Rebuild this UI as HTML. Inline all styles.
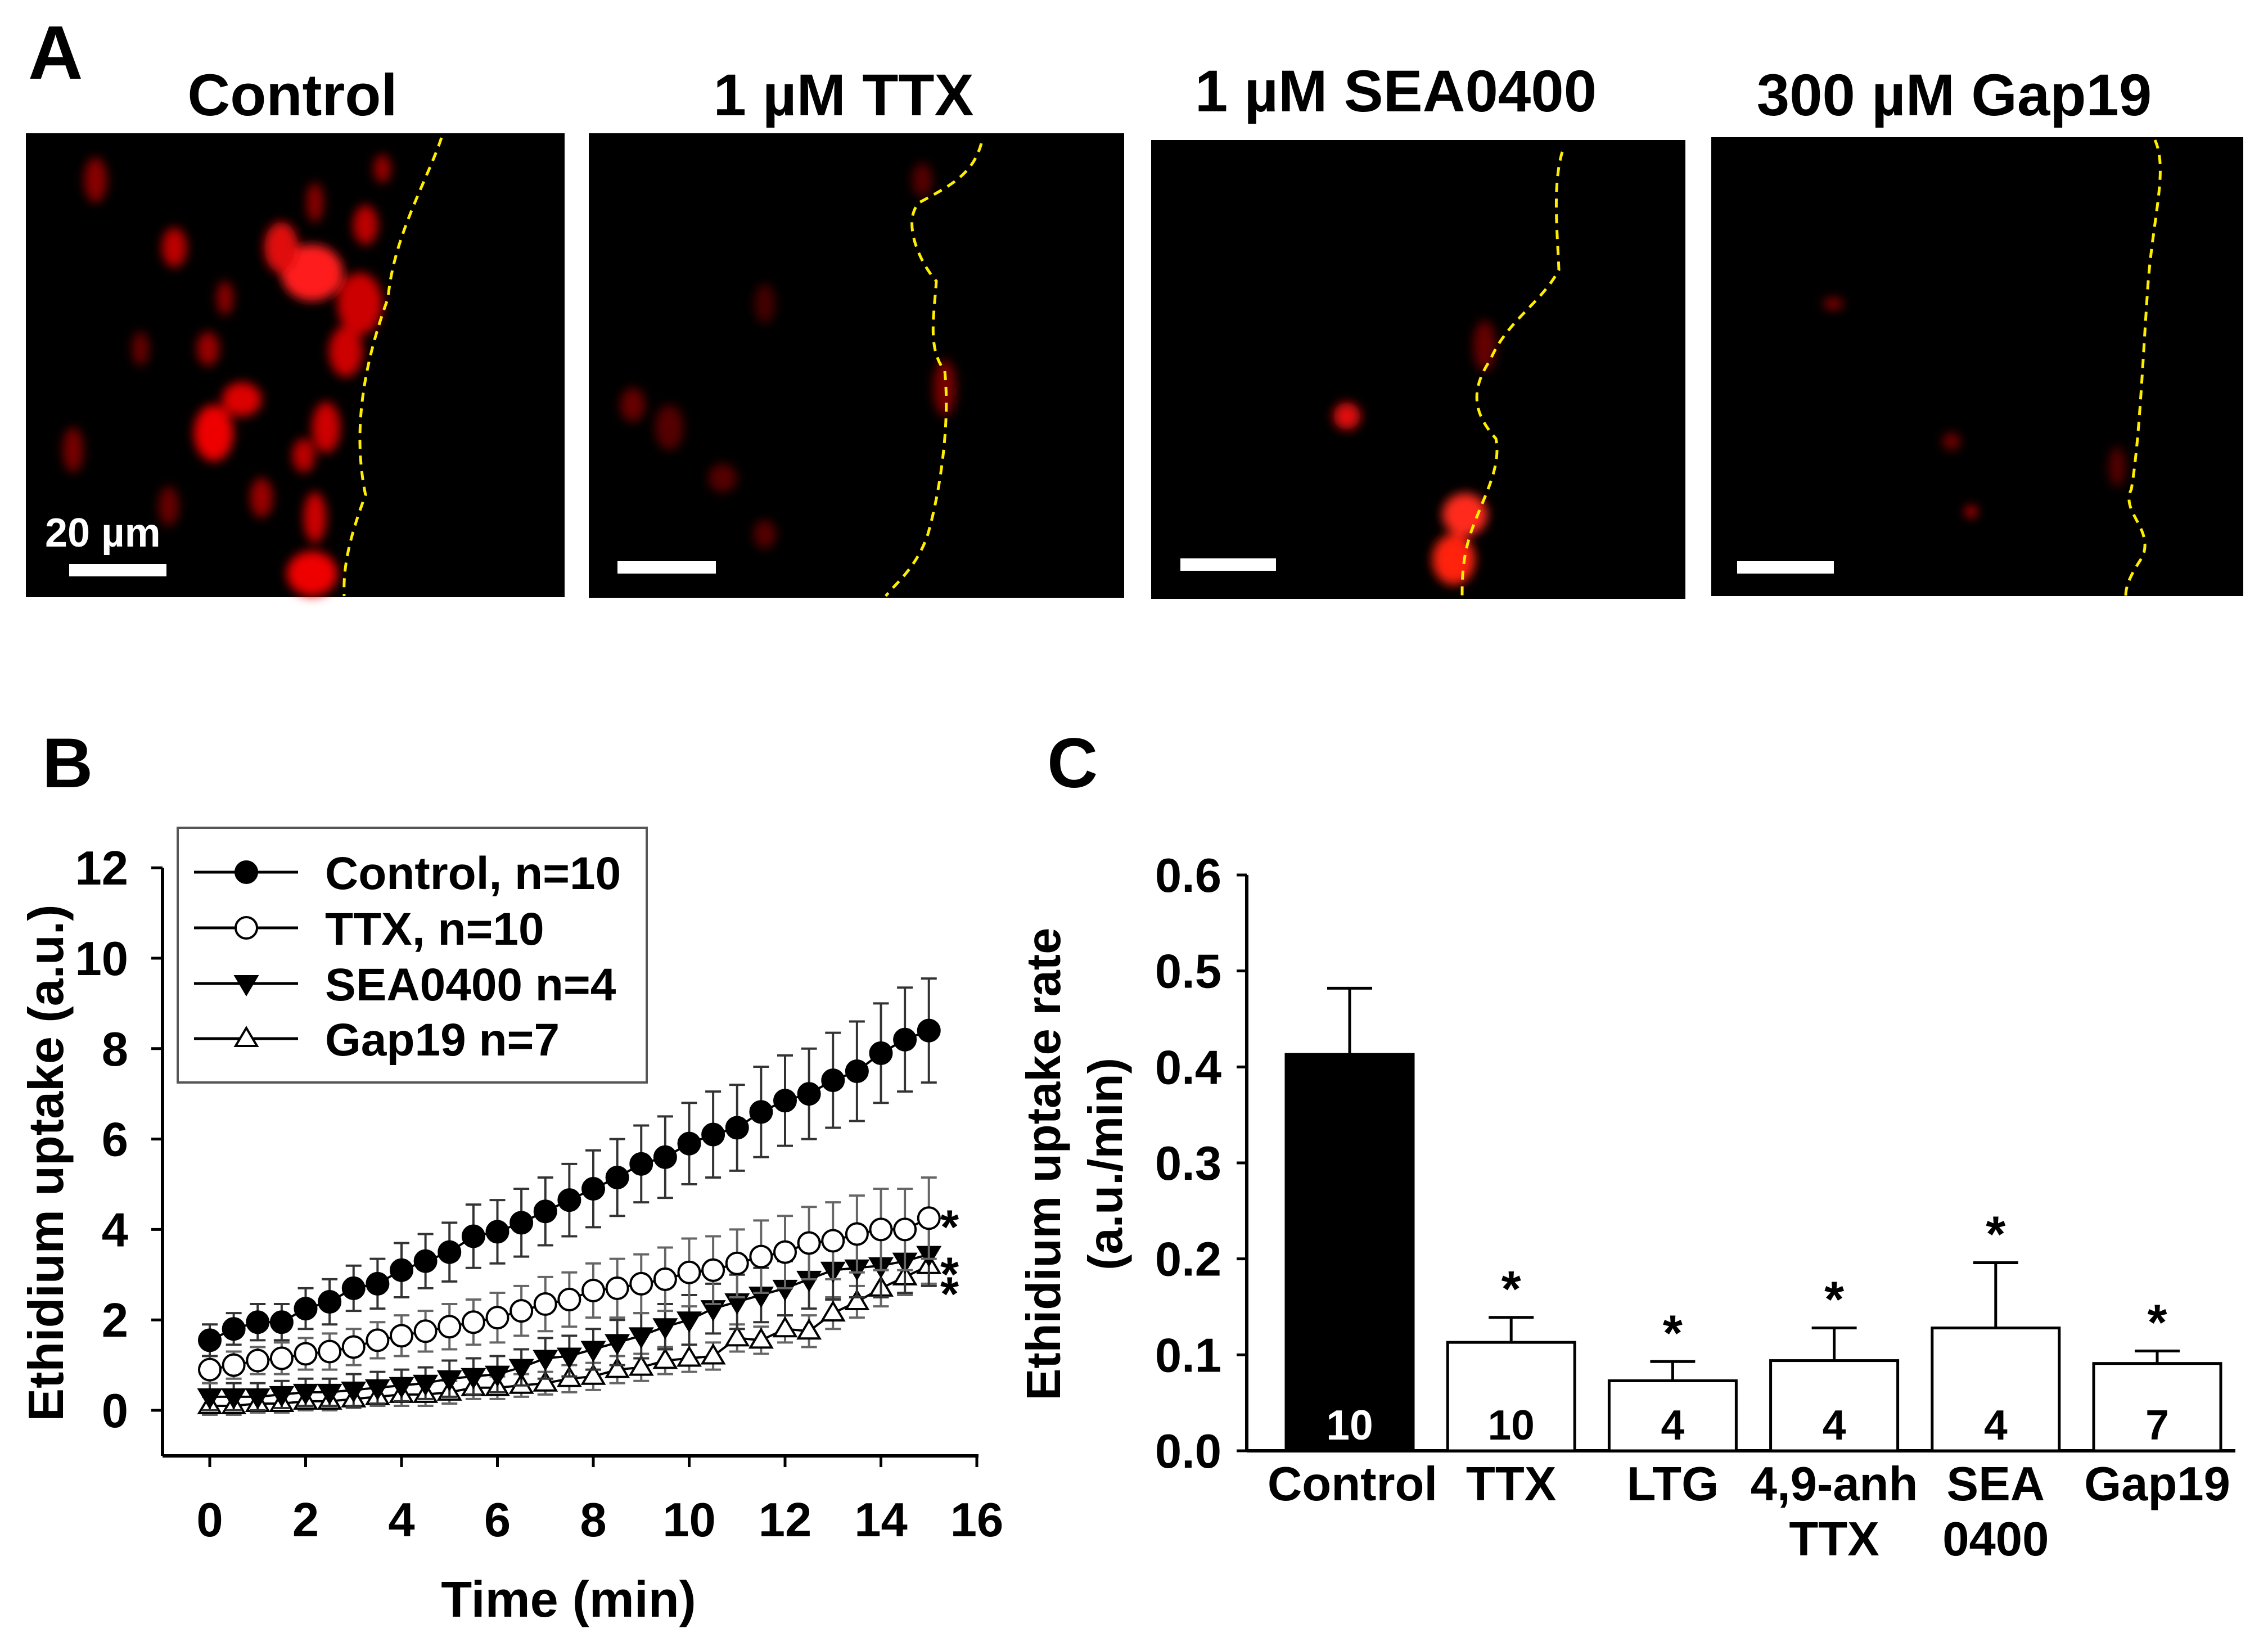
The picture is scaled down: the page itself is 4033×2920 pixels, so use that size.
<!DOCTYPE html>
<html><head><meta charset="utf-8">
<style>
html,body{margin:0;padding:0;background:#fff;}
svg{display:block;}
text{font-family:"Liberation Sans Narrow","Liberation Sans",sans-serif;font-weight:bold;fill:#000;}
.b text{font-family:"Liberation Sans",sans-serif;}
</style></head>
<body>
<svg id="fig" width="4033" height="2920" viewBox="0 0 4033 2920" xmlns="http://www.w3.org/2000/svg">
<defs>
<filter id="blur" x="-50%" y="-50%" width="200%" height="200%"><feGaussianBlur stdDeviation="9"/></filter>
</defs>
<g>
<text x="50" y="140" font-size="135">A</text>
<text x="520" y="205" font-size="105" text-anchor="middle">Control</text>
<text x="1500" y="205" font-size="105" text-anchor="middle">1 µM TTX</text>
<text x="2482" y="198" font-size="105" text-anchor="middle">1 µM SEA0400</text>
<text x="3475" y="205" font-size="105" text-anchor="middle">300 µM Gap19</text>

<rect x="46" y="237" width="958" height="825" fill="#000"/>
<rect x="1047" y="237" width="952" height="826" fill="#000"/>
<rect x="2047" y="249" width="950" height="816" fill="#000"/>
<rect x="3043" y="244" width="946" height="816" fill="#000"/>

<g filter="url(#blur)">
<ellipse cx="555" cy="485" rx="55" ry="50" fill="#ff1a1a"/>
<ellipse cx="500" cy="440" rx="30" ry="45" fill="#e01010"/>
<ellipse cx="640" cy="540" rx="40" ry="55" fill="#c00"/>
<ellipse cx="615" cy="625" rx="30" ry="45" fill="#c00"/>
<ellipse cx="650" cy="400" rx="22" ry="35" fill="#b00"/>
<ellipse cx="310" cy="440" rx="22" ry="35" fill="#b00"/>
<ellipse cx="430" cy="710" rx="35" ry="30" fill="#d00"/>
<ellipse cx="380" cy="770" rx="35" ry="50" fill="#e00"/>
<ellipse cx="580" cy="760" rx="25" ry="45" fill="#c00"/>
<ellipse cx="540" cy="810" rx="20" ry="30" fill="#b00"/>
<ellipse cx="560" cy="920" rx="20" ry="45" fill="#c00"/>
<ellipse cx="555" cy="1020" rx="45" ry="40" fill="#e00"/>
<ellipse cx="465" cy="885" rx="20" ry="35" fill="#900"/>
<ellipse cx="370" cy="620" rx="20" ry="30" fill="#900"/>
<ellipse cx="170" cy="320" rx="20" ry="40" fill="#800"/>
<ellipse cx="400" cy="530" rx="15" ry="30" fill="#800"/>
<ellipse cx="130" cy="800" rx="18" ry="40" fill="#700"/>
<ellipse cx="680" cy="300" rx="15" ry="25" fill="#900"/>
<ellipse cx="560" cy="360" rx="15" ry="35" fill="#800"/>
<ellipse cx="300" cy="900" rx="18" ry="35" fill="#600"/>
<ellipse cx="250" cy="620" rx="15" ry="30" fill="#600"/>
</g>
<g filter="url(#blur)">
<ellipse cx="1680" cy="690" rx="20" ry="50" fill="#700"/>
<ellipse cx="1125" cy="720" rx="22" ry="30" fill="#600"/>
<ellipse cx="1190" cy="760" rx="25" ry="40" fill="#500"/>
<ellipse cx="1285" cy="850" rx="25" ry="25" fill="#500"/>
<ellipse cx="1360" cy="950" rx="20" ry="25" fill="#500"/>
<ellipse cx="1360" cy="540" rx="18" ry="35" fill="#400"/>
<ellipse cx="1640" cy="320" rx="18" ry="30" fill="#500"/>
</g>
<g filter="url(#blur)">
<ellipse cx="2605" cy="915" rx="40" ry="38" fill="#ff2a1a"/>
<ellipse cx="2585" cy="995" rx="38" ry="45" fill="#ff2010"/>
<ellipse cx="2395" cy="740" rx="24" ry="24" fill="#e01010"/>
<ellipse cx="2640" cy="615" rx="20" ry="45" fill="#600"/>
</g>
<g filter="url(#blur)">
<ellipse cx="3260" cy="540" rx="18" ry="10" fill="#800"/>
<ellipse cx="3470" cy="785" rx="15" ry="15" fill="#700"/>
<ellipse cx="3505" cy="910" rx="10" ry="10" fill="#d00"/>
<ellipse cx="3765" cy="830" rx="15" ry="35" fill="#500"/>
</g>
<g fill="none" stroke="#ffee00" stroke-width="5" stroke-dasharray="16,12">
<path d="M785,245 C760,320 700,420 690,530 C650,640 625,760 650,880 C620,960 610,1010 612,1060"/>
<path d="M1745,255 C1730,310 1690,330 1635,360 C1605,390 1630,460 1665,500 C1660,570 1650,620 1680,660 C1690,760 1670,880 1650,950 C1630,1010 1590,1040 1575,1060"/>
<path d="M2778,270 C2760,330 2770,420 2772,480 C2740,540 2680,570 2650,640 C2610,700 2625,740 2660,780 C2670,830 2640,880 2618,940 C2600,990 2600,1030 2600,1062"/>
<path d="M3832,249 C3855,300 3830,380 3820,500 C3810,640 3805,780 3790,870 C3770,910 3830,940 3810,990 C3790,1020 3780,1040 3780,1060"/>
</g>
<text x="80" y="972" font-size="72" style="fill:#fff">20 µm</text>
<rect x="123" y="1003" width="173" height="22" fill="#fff"/>
<rect x="1098" y="998" width="175" height="22" fill="#fff"/>
<rect x="2099" y="993" width="170" height="22" fill="#fff"/>
<rect x="3089" y="998" width="172" height="22" fill="#fff"/>
</g>

<g class="b" id="panelB">
<text x="75" y="1400" font-size="125">B</text>
</g>
<g id="panelC">
<text x="1862" y="1400" font-size="125" style="font-family:'Liberation Sans',sans-serif">C</text>
</g>
</svg>
<script>
// ---------- Panel B data ----------
const times = [0,0.5,1,1.5,2,2.5,3,3.5,4,4.5,5,5.5,6,6.5,7,7.5,8,8.5,9,9.5,10,10.5,11,11.5,12,12.5,13,13.5,14,14.5,15];
const controlMean = [1.55,1.8,1.95,1.95,2.25,2.4,2.7,2.8,3.1,3.3,3.5,3.85,3.95,4.15,4.4,4.65,4.9,5.15,5.45,5.6,5.9,6.1,6.25,6.6,6.85,7.0,7.3,7.5,7.9,8.2,8.4];
const controlErr = [0.35,0.35,0.4,0.4,0.45,0.5,0.5,0.55,0.6,0.6,0.65,0.7,0.7,0.75,0.75,0.8,0.85,0.85,0.85,0.9,0.9,0.95,0.95,1.0,1.0,1.0,1.05,1.1,1.1,1.15,1.15];
const ttxMean = [0.9,1.0,1.1,1.15,1.25,1.3,1.4,1.55,1.65,1.75,1.85,1.95,2.05,2.2,2.35,2.45,2.65,2.7,2.8,2.9,3.05,3.1,3.25,3.4,3.5,3.7,3.75,3.9,4.0,4.0,4.25];
const ttxErr = [0.3,0.3,0.3,0.35,0.35,0.4,0.4,0.4,0.45,0.45,0.5,0.5,0.55,0.55,0.6,0.6,0.6,0.65,0.65,0.7,0.75,0.75,0.75,0.8,0.8,0.8,0.85,0.85,0.9,0.9,0.9];
const seaMean = [0.3,0.3,0.3,0.35,0.4,0.4,0.45,0.5,0.55,0.6,0.7,0.75,0.8,0.95,1.15,1.2,1.35,1.5,1.65,1.85,2.0,2.25,2.4,2.55,2.7,2.9,3.1,3.15,3.2,3.3,3.45];
const seaErr = [0.3,0.3,0.3,0.3,0.3,0.3,0.35,0.35,0.35,0.35,0.4,0.4,0.4,0.4,0.45,0.45,0.45,0.5,0.5,0.5,0.55,0.55,0.6,0.6,0.6,0.65,0.65,0.65,0.7,0.7,0.7];
const gapMean = [0.1,0.1,0.15,0.15,0.2,0.2,0.25,0.3,0.35,0.35,0.4,0.5,0.5,0.55,0.6,0.7,0.75,0.9,0.95,1.1,1.15,1.2,1.6,1.55,1.8,1.75,2.15,2.4,2.7,2.95,3.2];
const gapErr = [0.2,0.2,0.2,0.2,0.2,0.2,0.2,0.2,0.25,0.25,0.25,0.25,0.25,0.25,0.25,0.3,0.3,0.3,0.3,0.3,0.3,0.3,0.3,0.3,0.3,0.35,0.35,0.35,0.4,0.4,0.4];
const bXTicks = [0,2,4,6,8,10,12,14,16];
const bYTicks = [0,2,4,6,8,10,12];
const legendLabels = ["Control, n=10","TTX, n=10","SEA0400 n=4","Gap19 n=7"];

// ---------- Panel C data ----------
const cCategories = [["Control"],["TTX"],["LTG"],["4,9-anh","TTX"],["SEA","0400"],["Gap19"]];
const cMeans = [0.413,0.113,0.073,0.094,0.128,0.091];
const cErrs = [0.069,0.026,0.020,0.034,0.068,0.013];
const cN = ["10","10","4","4","4","7"];
const cSig = [false,true,true,true,true,true];
const cYTicks = ["0.0","0.1","0.2","0.3","0.4","0.5","0.6"];

const NS = "http://www.w3.org/2000/svg";
function mk(parent, tag, attrs, txt){
  const e = document.createElementNS(NS, tag);
  for (const k in attrs) e.setAttribute(k, attrs[k]);
  if (txt !== undefined) e.textContent = txt;
  parent.appendChild(e);
  return e;
}

// ===== Panel B =====
(function(){
  const g = document.getElementById('panelB');
  const X0 = 373, XS = (1737-373)/16;
  const Y0 = 2508, YS = 80.4;
  const xs = v => X0 + v*XS;
  const ys = v => Y0 - v*YS;
  const axX = 289, axY = 2589;
  let e = mk(g,'line',{x1:axX,y1:ys(12),x2:axX,y2:axY,stroke:'#000','stroke-width':6});
   
  e = mk(g,'line',{x1:axX,y1:axY,x2:xs(16)+3,y2:axY,stroke:'#000','stroke-width':6});
   
  bYTicks.forEach(v=>{
    const t = mk(g,'line',{x1:axX-20,y1:ys(v),x2:axX,y2:ys(v),stroke:'#000','stroke-width':5});
     
    const l = mk(g,'text',{x:228,y:ys(v)+30,'font-size':85,'text-anchor':'end'},String(v));
     
  });
  bXTicks.forEach(v=>{
    const t = mk(g,'line',{x1:xs(v),y1:axY,x2:xs(v),y2:axY+20,stroke:'#000','stroke-width':5});
     
    const l = mk(g,'text',{x:xs(v),y:2732,'font-size':85,'text-anchor':'middle'},String(v));
     
  });
  e = mk(g,'text',{x:1011,y:2875,'font-size':90,'text-anchor':'middle'},'Time (min)');
   
  e = mk(g,'text',{x:0,y:0,'font-size':88,'text-anchor':'middle',transform:'translate(112,2068) rotate(-90)'},'Ethidium uptake (a.u.)');
   

  const series = [
    {m:controlMean,e:controlErr,type:'circle',fill:'#000',name:'control'},
    {m:ttxMean,e:ttxErr,type:'circle',fill:'#fff',name:'ttx'},
    {m:seaMean,e:seaErr,type:'tridown',fill:'#000',name:'sea0400'},
    {m:gapMean,e:gapErr,type:'triup',fill:'#fff',name:'gap19'}
  ];
  function marker(parent,type,fill,cx,cy){
    let m;
    if (type==='circle') m = mk(parent,'circle',{cx:cx,cy:cy,r:19,fill:fill,stroke:'#000','stroke-width':4});
    else if (type==='tridown') m = mk(parent,'polygon',{points:`${cx-19},${cy-13} ${cx+19},${cy-13} ${cx},${cy+19}`,fill:fill,stroke:'#000','stroke-width':4});
    else m = mk(parent,'polygon',{points:`${cx-19},${cy+13} ${cx+19},${cy+13} ${cx},${cy-19}`,fill:fill,stroke:'#000','stroke-width':4});
    return m;
  }
  series.slice().reverse().forEach(s=>{
    const sg = mk(g,'g',{});
     
    const col = s.fill==='#000' ? '#333' : '#666';
    times.forEach((t,i)=>{
      const x = xs(t), y1 = ys(s.m[i]+s.e[i]), y2 = ys(s.m[i]-s.e[i]);
      const eb = mk(sg,'path',{d:`M${x},${y1}V${y2}M${x-14},${y1}H${x+14}M${x-14},${y2}H${x+14}`,stroke:col,'stroke-width':4,fill:'none'});
       
    });
    const pts = times.map((t,i)=>xs(t)+','+ys(s.m[i])).join(' ');
    const ln = mk(sg,'polyline',{points:pts,fill:'none',stroke:'#000','stroke-width':4});
     
    times.forEach((t,i)=>{
      const p = marker(sg,s.type,s.fill,xs(t),ys(s.m[i]));
       
    });
  });
  [[ttxMean,15],[seaMean,35],[gapMean,50]].forEach(([m,off])=>{
    const st = mk(g,'text',{x:1672,y:ys(m[m.length-1])+off+30,'font-size':85},'*');
     
  });
  const lg = mk(g,'g',{});
   
  mk(lg,'rect',{x:316,y:1472,width:834,height:453,fill:'#fff',stroke:'#555','stroke-width':4});
  const ly = [1551,1650,1749,1847];
  series.forEach((s,i)=>{
    const en = mk(lg,'g',{});
     
    mk(en,'line',{x1:345,y1:ly[i],x2:530,y2:ly[i],stroke:'#000','stroke-width':5});
    marker(en,s.type,s.fill,438,ly[i]);
    mk(en,'text',{x:578,y:ly[i]+30,'font-size':82},legendLabels[i]);
  });
})();

// ===== Panel C =====
(function(){
  const g = document.getElementById('panelC');
  const Y0 = 2580, YS = (2580-1556)/0.6;
  const ys = v => Y0 - v*YS;
  const axX = 2217;
  const cx0 = 2400, cstep = 287.2, bw = 226;
  const cx = i => cx0 + i*cstep;
  let e = mk(g,'line',{x1:axX,y1:ys(0.6),x2:axX,y2:Y0,stroke:'#000','stroke-width':6});
   
  e = mk(g,'line',{x1:axX,y1:Y0,x2:3975,y2:Y0,stroke:'#000','stroke-width':6});
   
  cYTicks.forEach(s=>{
    const v = parseFloat(s);
    const t = mk(g,'line',{x1:axX-18,y1:ys(v),x2:axX,y2:ys(v),stroke:'#000','stroke-width':5});
     
    const l = mk(g,'text',{x:2172,y:ys(v)+30,'font-size':85,'text-anchor':'end'},s);
     
  });
  e = mk(g,'text',{x:0,y:0,'font-size':85,'text-anchor':'middle',transform:'translate(1885,2070) rotate(-90)'},'Ethidium uptake rate');
   
  e = mk(g,'text',{x:0,y:0,'font-size':85,'text-anchor':'middle',transform:'translate(1995,2070) rotate(-90)'},'(a.u./min)');
   
  cMeans.forEach((m,i)=>{
    const x = cx(i);
    const top = ys(m), et = ys(m+cErrs[i]);
    const eb = mk(g,'path',{d:`M${x},${top}V${et}M${x-40},${et}H${x+40}`,stroke:'#000','stroke-width':5,fill:'none'});
     
    const b = mk(g,'rect',{x:x-bw/2,y:top,width:bw,height:Y0-top,fill:i===0?'#000':'#fff',stroke:'#000','stroke-width':5});
    
    
    const n = mk(g,'text',{x:x,y:2560,'font-size':75,'text-anchor':'middle'},cN[i]);
    if (i===0) n.setAttribute('style','fill:#fff');
     
    if (cSig[i]) {
      const s = mk(g,'text',{x:x,y:et-20,'font-size':90,'text-anchor':'middle'},'*');
       
    }
    cCategories[i].forEach((ln,j)=>{
      const t = mk(g,'text',{x:i===0?x+5:x,y:2668+j*98,'font-size':85,'text-anchor':'middle'},ln);
       
    });
  });
})();
</script>
</body></html>
